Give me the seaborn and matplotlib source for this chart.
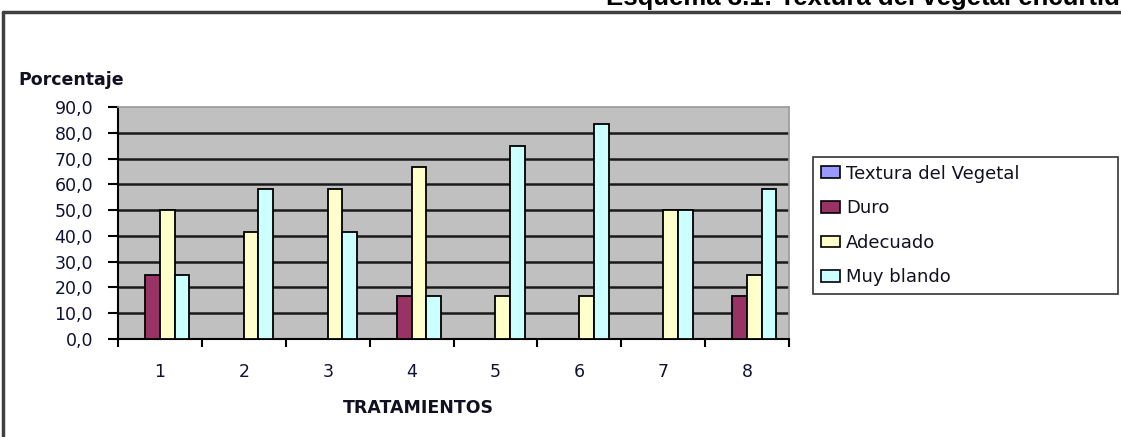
import matplotlib
matplotlib.use("Agg")
import matplotlib.pyplot as plt
from matplotlib.lines import Line2D
from matplotlib.patches import Patch
from matplotlib.ticker import FixedLocator, FuncFormatter
import numpy as np
import pandas as pd
import seaborn as sns

# Data: percentage of samples per texture class for each treatment
tratamientos = ["1", "2", "3", "4", "5", "6", "7", "8"]
series = ["Textura del Vegetal", "Duro", "Adecuado", "Muy blando"]
textura = [np.nan] * 8
duro = [25.0, np.nan, np.nan, 16.7, np.nan, np.nan, np.nan, 16.7]
adecuado = [50.0, 41.7, 58.3, 66.7, 16.7, 16.7, 50.0, 25.0]
muy_blando = [25.0, 58.3, 41.7, 16.7, 75.0, 83.3, 50.0, 58.3]
colores = ["#9999FF", "#993366", "#FFFFCC", "#CCFFFF"]
y_ticks = [0, 10, 20, 30, 40, 50, 60, 70, 80, 90]

df = pd.DataFrame({
    "Tratamiento": tratamientos * 4,
    "Serie": np.repeat(series, len(tratamientos)),
    "Porcentaje": textura + duro + adecuado + muy_blando,
})

sns.set_theme(style="white")
plt.rcParams["font.family"] = ["DejaVu Sans"]

W, H = 1121, 437
fig = plt.figure(figsize=(W / 100, H / 100), dpi=100)
ax = fig.add_axes([118 / W, 1 - 339 / H, (789 - 118) / W, (339 - 107) / H])

sns.barplot(data=df, x="Tratamiento", y="Porcentaje", hue="Serie",
            hue_order=series, order=tratamientos, palette=colores,
            width=0.7, edgecolor="black", linewidth=1.3, saturation=1,
            errorbar=None, legend=False, ax=ax, zorder=3)

ax.set_facecolor("#C0C0C0")
ax.set_ylim(0, 90)
ax.set_xlim(-0.5, len(tratamientos) - 0.5)

# horizontal gridlines
for v in y_ticks[1:-1]:
    ax.axhline(v, color="#1a1a1a", lw=1.8, zorder=1)

for side in ["top", "right"]:
    ax.spines[side].set_color("#9a9a9a")
    ax.spines[side].set_linewidth(1.2)
for side in ["left", "bottom"]:
    ax.spines[side].set_color("black")
    ax.spines[side].set_linewidth(1.5)

ax.yaxis.set_major_locator(FixedLocator(y_ticks))
ax.yaxis.set_major_formatter(FuncFormatter(lambda v, p: f"{v:.1f}".replace(".", ",")))
ax.tick_params(axis="y", direction="out", length=7, width=1.5, color="black",
               pad=11, labelsize=12.5, labelcolor="#111133", left=True)

# x ticks on category boundaries, labels at centres
ax.xaxis.set_major_locator(FixedLocator(np.arange(-0.5, len(tratamientos), 1.0)))
ax.xaxis.set_minor_locator(FixedLocator(np.arange(len(tratamientos))))
ax.xaxis.set_major_formatter(FuncFormatter(lambda v, p: ""))
ax.xaxis.set_minor_formatter(FuncFormatter(lambda v, p: tratamientos[int(round(v))]))
ax.tick_params(axis="x", which="major", direction="out", length=6, width=1.5,
               color="black", bottom=True)
ax.tick_params(axis="x", which="minor", length=0, pad=17, labelsize=12.5,
               labelcolor="#111133", bottom=True)
ax.set_xlabel("")
ax.set_ylabel("")

fig.text(18 / W, 1 - 80 / H, "Porcentaje", fontsize=12.5, fontweight="bold",
         ha="left", va="center", color="#111122")
fig.text(418 / W, 1 - 408 / H, "TRATAMIENTOS", fontsize=12.5, fontweight="bold",
         ha="center", va="center", color="#111122")

fig.text(606 / W, 1 - 5 / H, "Esquema 3.1: Textura del vegetal encurtido",
         fontsize=18.5, fontweight="bold", family="Liberation Sans",
         ha="left", va="baseline", color="black")

# outer frame of the chart
fig.add_artist(Line2D([3 / W, 1.0], [1 - 12 / H, 1 - 12 / H], color="#404040", lw=2.5))
fig.add_artist(Line2D([3 / W, 3 / W], [0.0, 1 - 12 / H], color="#404040", lw=2.5))

handles = [Patch(facecolor=c, edgecolor="black", linewidth=1.2) for c in colores]
leg = fig.legend(handles, series, loc="upper left", mode="expand",
                 bbox_to_anchor=(813 / W, 1 - 157 / H, (1118 - 813) / W, 0),
                 frameon=True, fancybox=False, edgecolor="black", fontsize=13,
                 handlelength=1.1, handleheight=0.6, handletextpad=0.3,
                 labelspacing=0.92, borderpad=0.42, borderaxespad=0)
leg.get_frame().set_linewidth(1.2)
for t in leg.get_texts():
    t.set_color("#111122")

fig.savefig("out.png", dpi=100)
